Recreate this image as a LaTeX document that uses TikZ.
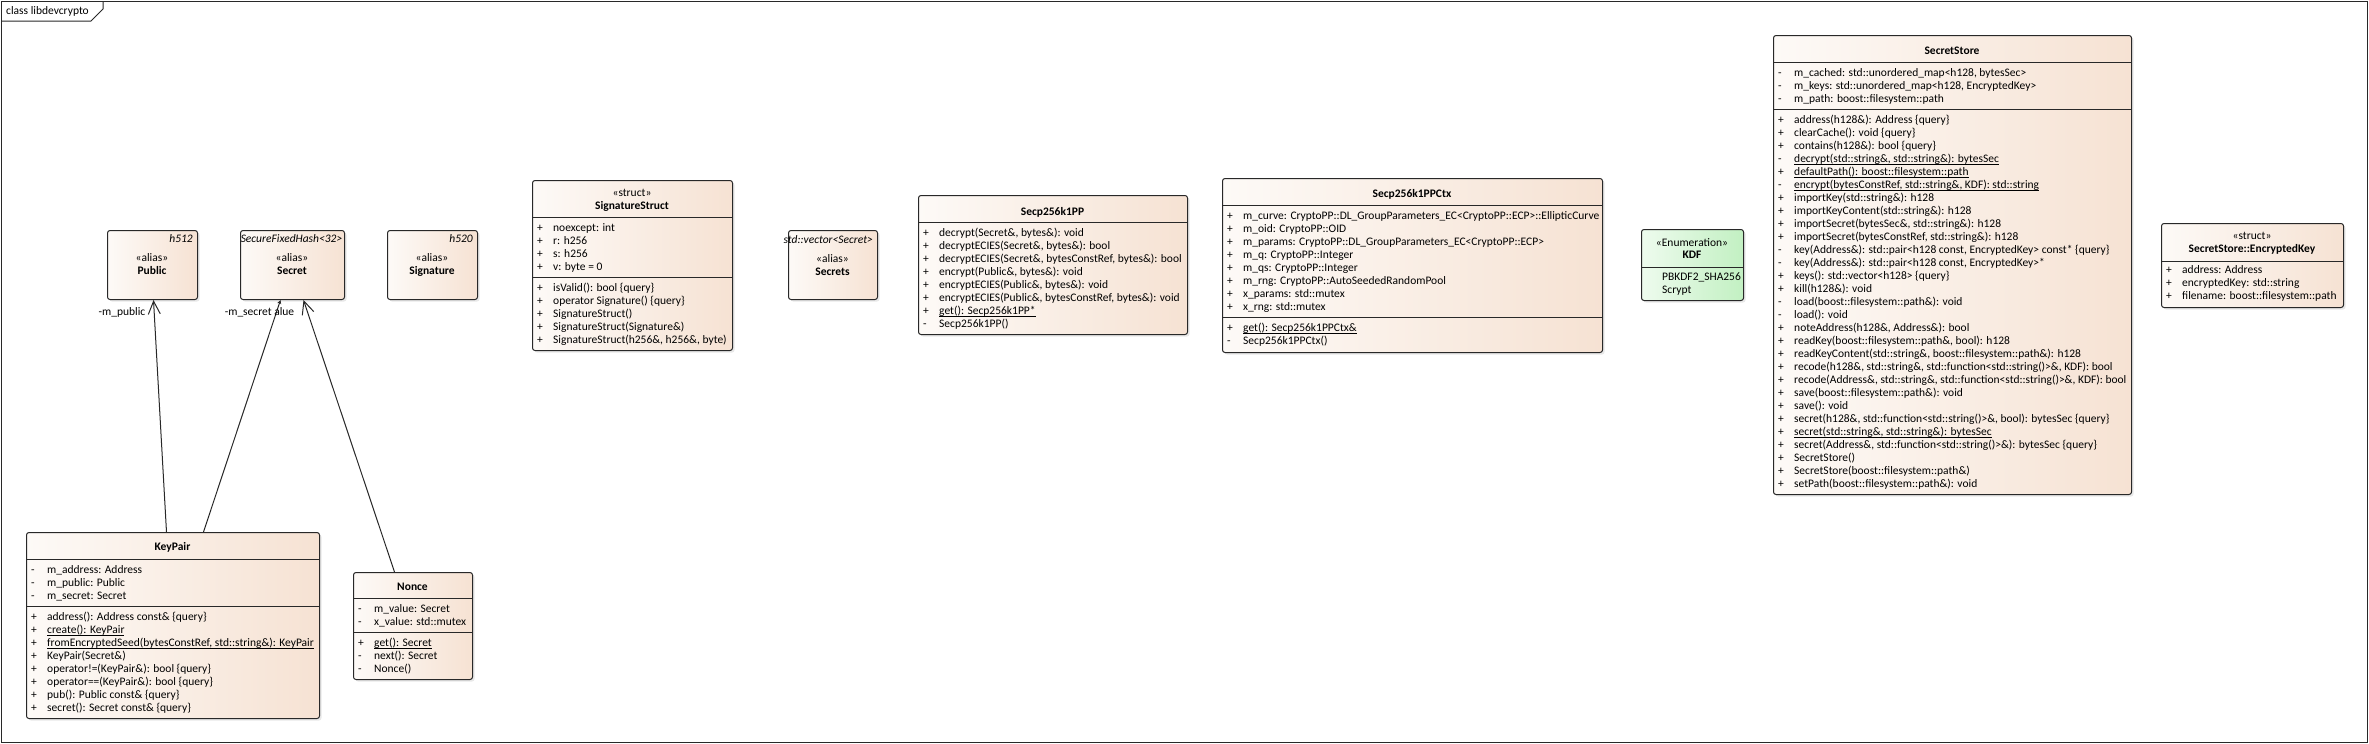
\documentclass[tikz,border=0pt]{standalone}
\usepackage{fontspec}
\setmainfont{Carlito}
\usetikzlibrary{positioning}
\usetikzlibrary{shadows}
\usetikzlibrary{arrows.meta}
\definecolor{cl}{RGB}{253, 250, 247}
\definecolor{cr}{RGB}{246, 226, 211}
\definecolor{el}{RGB}{238, 251, 238}
\definecolor{er}{RGB}{194, 240, 194}
\definecolor{ln}{RGB}{40, 40, 40}
\tikzset{
  classbox/.style={draw=ln, line width=1pt, rounded corners=2.5pt, left color=cl, right color=cr, anchor=north west, inner sep=0pt, drop shadow={shadow xshift=2pt, shadow yshift=-2pt, opacity=0.18}},
  enumbox/.style={classbox, left color=el, right color=er},
  divider/.style={draw=ln, line width=1pt},
  txt/.style={font=\fontsize{11.5}{13}\selectfont, inner sep=0pt},
  ttl/.style={txt, font=\fontsize{11.5}{13}\selectfont\bfseries},
  stereo/.style={txt, font=\fontsize{11.5}{13}\selectfont\itshape},
  memb/.style={txt, anchor=base west},
  frame/.style={draw=ln, line width=1pt},
  nav/.style={draw=ln, line width=1pt, -{Straight Barb[length=13pt, width=12pt]}},
  navsmall/.style={draw=ln, line width=1pt, -{Stealth[length=4pt, width=4pt]}}
}
\newcommand{\mlist}[1]{\begin{tabular}[t]{@{}p{16pt}@{}l@{}}#1\end{tabular}}
\newcommand{\undl}[1]{\setbox0\hbox{#1}\rlap{\rule[-2pt]{\wd0}{0.7pt}}\box0}

\begin{document}
\begin{tikzpicture}[x=1pt, y=-1pt]
\useasboundingbox (0,0) rectangle (2369,744);
% frame
\draw[frame] (1,1) rectangle (2367,742);
\draw[frame] (1,21) -- (91,21) -- (103,9) -- (103,1);
\node[txt, anchor=west] (frametitle) at (6,11) {class libdevcrypto};

% aliases
\node[classbox, minimum width=90pt, minimum height=69pt] (public) at (107,230) {};
\node[stereo, anchor=east] (public-s) at (193,239) {h512};
\node[txt] (public-a) at (152,258) {«alias»};
\node[ttl] (public-t) at (152,271) {Public};

\node[classbox, minimum width=104pt, minimum height=69pt] (secret) at (240,230) {};
\node[stereo] (secret-s) at (291.5,239) {SecureFixedHash<32>};
\node[txt] (secret-a) at (292,258) {«alias»};
\node[ttl] (secret-t) at (292,271) {Secret};

\node[classbox, minimum width=90pt, minimum height=69pt] (signature) at (387,230) {};
\node[stereo, anchor=east] (signature-s) at (473,239) {h520};
\node[txt] (signature-a) at (432,258) {«alias»};
\node[ttl] (signature-t) at (432,271) {Signature};

\node[classbox, minimum width=89pt, minimum height=69pt] (secrets) at (788,230) {};
\node[stereo, anchor=east] (secrets-s) at (873,240) {std::vector<Secret>};
\node[txt] (secrets-a) at (832.5,259) {«alias»};
\node[ttl] (secrets-t) at (832.5,272) {Secrets};

% SignatureStruct
\node[classbox, minimum width=200pt, minimum height=170pt] (sigstruct) at (532,180) {};
\node[txt] (sigstruct-s) at (632,193) {«struct»};
\node[ttl] (sigstruct-t) at (632,206) {SignatureStruct};
\draw[divider] (sigstruct.west |- 0,217) -- (sigstruct.east |- 0,217);
\draw[divider] (sigstruct.west |- 0,277) -- (sigstruct.east |- 0,277);
\node[memb] (sigstruct-f) at (537,231.5) {\mlist{
+ & noexcept: int\\
+ & r: h256\\
+ & s: h256\\
+ & v: byte = 0}};
\node[memb] (sigstruct-m) at (537,291.5) {\mlist{
+ & isValid(): bool \{query\}\\
+ & operator Signature() \{query\}\\
+ & SignatureStruct()\\
+ & SignatureStruct(Signature\&)\\
+ & SignatureStruct(h256\&, h256\&, byte)}};

% Secp256k1PP
\node[classbox, minimum width=269pt, minimum height=139pt] (pp) at (918,195) {};
\node[ttl] (pp-t) at (1052.5,212) {Secp256k1PP};
\draw[divider] (pp.west |- 0,222) -- (pp.east |- 0,222);
\node[memb] (pp-m) at (923,236.5) {\mlist{
+ & decrypt(Secret\&, bytes\&): void\\
+ & decryptECIES(Secret\&, bytes\&): bool\\
+ & decryptECIES(Secret\&, bytesConstRef, bytes\&): bool\\
+ & encrypt(Public\&, bytes\&): void\\
+ & encryptECIES(Public\&, bytes\&): void\\
+ & encryptECIES(Public\&, bytesConstRef, bytes\&): void\\
+ & \undl{get(): Secp256k1PP*}\\
- & Secp256k1PP()}};

% Secp256k1PPCtx
\node[classbox, minimum width=380pt, minimum height=174pt] (ctx) at (1222,178) {};
\node[ttl] (ctx-t) at (1412,194) {Secp256k1PPCtx};
\draw[divider] (ctx.west |- 0,205) -- (ctx.east |- 0,205);
\draw[divider] (ctx.west |- 0,317) -- (ctx.east |- 0,317);
\node[memb] (ctx-f) at (1227,219.5) {\mlist{
+ & m\_curve: CryptoPP::DL\_GroupParameters\_EC<CryptoPP::ECP>::EllipticCurve\\
+ & m\_oid: CryptoPP::OID\\
+ & m\_params: CryptoPP::DL\_GroupParameters\_EC<CryptoPP::ECP>\\
+ & m\_q: CryptoPP::Integer\\
+ & m\_qs: CryptoPP::Integer\\
+ & m\_rng: CryptoPP::AutoSeededRandomPool\\
+ & x\_params: std::mutex\\
+ & x\_rng: std::mutex}};
\node[memb] (ctx-m) at (1227,331.5) {\mlist{
+ & \undl{get(): Secp256k1PPCtx\&}\\
- & Secp256k1PPCtx()}};

% KDF
\node[enumbox, minimum width=102pt, minimum height=71pt] (kdf) at (1641,229) {};
\node[txt] (kdf-s) at (1692,243) {«Enumeration»};
\node[ttl] (kdf-t) at (1692,255) {KDF};
\draw[divider] (kdf.west |- 0,267) -- (kdf.east |- 0,267);
\node[memb] (kdf-l) at (1662,280.5) {\begin{tabular}[t]{@{}l@{}}PBKDF2\_SHA256\\ Scrypt\end{tabular}};

% SecretStore
\node[classbox, minimum width=358pt, minimum height=459pt] (store) at (1773,35) {};
\node[ttl] (store-t) at (1952,51) {SecretStore};
\draw[divider] (store.west |- 0,62) -- (store.east |- 0,62);
\draw[divider] (store.west |- 0,109) -- (store.east |- 0,109);
\node[memb] (store-f) at (1778,76.5) {\mlist{
- & m\_cached: std::unordered\_map<h128, bytesSec>\\
- & m\_keys: std::unordered\_map<h128, EncryptedKey>\\
- & m\_path: boost::filesystem::path}};
\node[memb] (store-m) at (1778,123.5) {\mlist{
+ & address(h128\&): Address \{query\}\\
+ & clearCache(): void \{query\}\\
+ & contains(h128\&): bool \{query\}\\
- & \undl{decrypt(std::string\&, std::string\&): bytesSec}\\
+ & \undl{defaultPath(): boost::filesystem::path}\\
- & \undl{encrypt(bytesConstRef, std::string\&, KDF): std::string}\\
+ & importKey(std::string\&): h128\\
+ & importKeyContent(std::string\&): h128\\
+ & importSecret(bytesSec\&, std::string\&): h128\\
+ & importSecret(bytesConstRef, std::string\&): h128\\
- & key(Address\&): std::pair<h128 const, EncryptedKey> const* \{query\}\\
- & key(Address\&): std::pair<h128 const, EncryptedKey>*\\
+ & keys(): std::vector<h128> \{query\}\\
+ & kill(h128\&): void\\
- & load(boost::filesystem::path\&): void\\
- & load(): void\\
+ & noteAddress(h128\&, Address\&): bool\\
+ & readKey(boost::filesystem::path\&, bool): h128\\
+ & readKeyContent(std::string\&, boost::filesystem::path\&): h128\\
+ & recode(h128\&, std::string\&, std::function<std::string()>\&, KDF): bool\\
+ & recode(Address\&, std::string\&, std::function<std::string()>\&, KDF): bool\\
+ & save(boost::filesystem::path\&): void\\
+ & save(): void\\
+ & secret(h128\&, std::function<std::string()>\&, bool): bytesSec \{query\}\\
+ & \undl{secret(std::string\&, std::string\&): bytesSec}\\
+ & secret(Address\&, std::function<std::string()>\&): bytesSec \{query\}\\
+ & SecretStore()\\
+ & SecretStore(boost::filesystem::path\&)\\
+ & setPath(boost::filesystem::path\&): void}};

% SecretStore::EncryptedKey
\node[classbox, minimum width=182pt, minimum height=84pt] (enckey) at (2161,223) {};
\node[txt] (enckey-s) at (2252,236) {«struct»};
\node[ttl] (enckey-t) at (2252,249) {SecretStore::EncryptedKey};
\draw[divider] (enckey.west |- 0,261) -- (enckey.east |- 0,261);
\node[memb] (enckey-f) at (2166,273.5) {\mlist{
+ & address: Address\\
+ & encryptedKey: std::string\\
+ & filename: boost::filesystem::path}};

% KeyPair
\node[classbox, minimum width=293pt, minimum height=186pt] (keypair) at (26,532) {};
\node[ttl] (keypair-t) at (172.5,547) {KeyPair};
\draw[divider] (keypair.west |- 0,559) -- (keypair.east |- 0,559);
\draw[divider] (keypair.west |- 0,606) -- (keypair.east |- 0,606);
\node[memb] (keypair-f) at (31,573.5) {\mlist{
- & m\_address: Address\\
- & m\_public: Public\\
- & m\_secret: Secret}};
\node[memb] (keypair-m) at (31,620.5) {\mlist{
+ & address(): Address const\& \{query\}\\
+ & \undl{create(): KeyPair}\\
+ & \undl{fromEncryptedSeed(bytesConstRef, std::string\&): KeyPair}\\
+ & KeyPair(Secret\&)\\
+ & operator!=(KeyPair\&): bool \{query\}\\
+ & operator==(KeyPair\&): bool \{query\}\\
+ & pub(): Public const\& \{query\}\\
+ & secret(): Secret const\& \{query\}}};

% Nonce
\node[classbox, minimum width=119pt, minimum height=107pt] (nonce) at (353,572) {};
\node[ttl] (nonce-t) at (412.5,587) {Nonce};
\draw[divider] (nonce.west |- 0,598) -- (nonce.east |- 0,598);
\draw[divider] (nonce.west |- 0,632) -- (nonce.east |- 0,632);
\node[memb] (nonce-f) at (358,612.5) {\mlist{
- & m\_value: Secret\\
- & x\_value: std::mutex}};
\node[memb] (nonce-m) at (358,646.5) {\mlist{
+ & \undl{get(): Secret}\\
- & next(): Secret\\
- & Nonce()}};

% associations
\draw[nav] ([xshift=-6.5pt]keypair.north) -- ([xshift=1pt]public.south);
\draw[navsmall] ([xshift=30.5pt]keypair.north) -- ([xshift=-12pt]secret.south);
\draw[nav] ([xshift=-18.5pt]nonce.north) -- ([xshift=11pt]secret.south);
\node[txt] (public-r) at (122,312) {-m\_public};
\node[txt] (secret-r) at (259.5,312) {-m\_secret alue};
\end{tikzpicture}
\end{document}
